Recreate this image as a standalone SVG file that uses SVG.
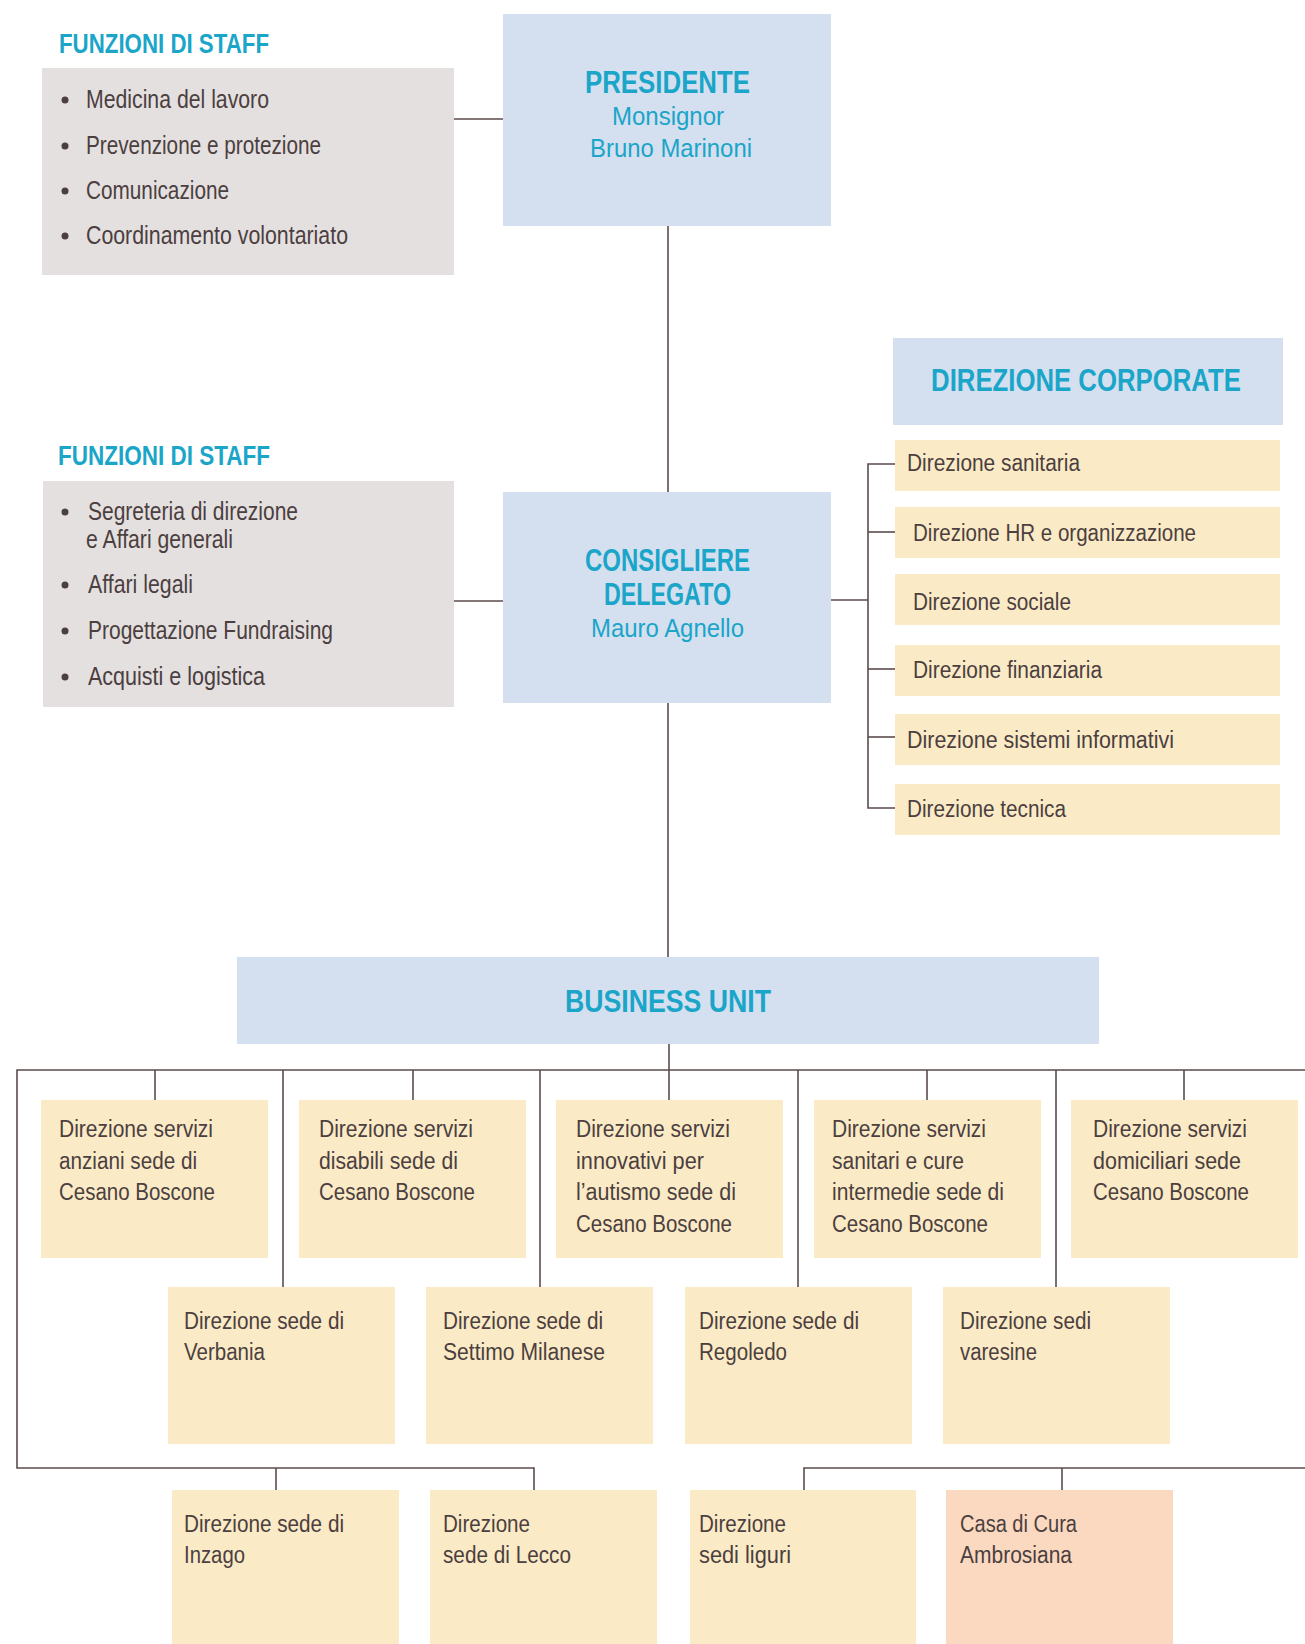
<svg xmlns="http://www.w3.org/2000/svg" width="1305" height="1644" viewBox="0 0 1305 1644">
<style>
text{font-family:"Liberation Sans",Arial,sans-serif}
.t{fill:#4b3f3f;font-size:23px}
.s{fill:#4b3f3f;font-size:25px}
.h{fill:#1aa5c9;font-weight:bold;font-size:32px}
.ht{fill:#1aa5c9;font-weight:bold;font-size:27px}
.n{fill:#1aa5c9;font-size:26px}
.blue{fill:#d4e0ef}
.staff{fill:#e5e0e0}
.cream{fill:#fbeac6}
.peach{fill:#fbd9c0}
.bul{fill:#4b3f3f}
.c line,.c path{stroke:#5b4b4b;stroke-width:1.6;fill:none}
</style>
<rect width="1305" height="1644" fill="#ffffff"/>

<g class="c" id="connectors">
<line x1="454" y1="119" x2="503" y2="119"/>
<line x1="454" y1="601" x2="503" y2="601"/>
<line x1="668" y1="226" x2="668" y2="492"/>
<line x1="668" y1="703" x2="668" y2="957"/>
<line x1="669" y1="1044" x2="669" y2="1100"/>
<line x1="831" y1="600" x2="868" y2="600"/>
<path d="M895 464 H868 V808 H895"/>
<line x1="868" y1="532" x2="895" y2="532"/>
<line x1="868" y1="669" x2="895" y2="669"/>
<line x1="868" y1="737" x2="895" y2="737"/>
<path d="M1305 1070 H17 V1468 H534 V1490"/>
<line x1="276" y1="1468" x2="276" y2="1490"/>
<path d="M804 1490 V1468 H1305"/>
<line x1="1062" y1="1468" x2="1062" y2="1490"/>
<line x1="155" y1="1070" x2="155" y2="1100"/>
<line x1="413" y1="1070" x2="413" y2="1100"/>
<line x1="927" y1="1070" x2="927" y2="1100"/>
<line x1="1184" y1="1070" x2="1184" y2="1100"/>
<line x1="283" y1="1070" x2="283" y2="1287"/>
<line x1="540" y1="1070" x2="540" y2="1287"/>
<line x1="798" y1="1070" x2="798" y2="1287"/>
<line x1="1056" y1="1070" x2="1056" y2="1287"/>
</g>

<g id="staff1">
<text class="ht" x="59" y="53" textLength="210" lengthAdjust="spacingAndGlyphs">FUNZIONI DI STAFF</text>
<rect class="staff" x="42" y="68" width="412" height="207"/>
<circle class="bul" cx="65" cy="100" r="3.5"/>
<text class="s" x="86" y="108" textLength="183" lengthAdjust="spacingAndGlyphs">Medicina del lavoro</text>
<circle class="bul" cx="65" cy="146" r="3.5"/>
<text class="s" x="86" y="154" textLength="235" lengthAdjust="spacingAndGlyphs">Prevenzione e protezione</text>
<circle class="bul" cx="65" cy="191" r="3.5"/>
<text class="s" x="86" y="199" textLength="143" lengthAdjust="spacingAndGlyphs">Comunicazione</text>
<circle class="bul" cx="65" cy="236" r="3.5"/>
<text class="s" x="86" y="244" textLength="262" lengthAdjust="spacingAndGlyphs">Coordinamento volontariato</text>
</g>

<g id="presidente">
<rect class="blue" x="503" y="14" width="328" height="212"/>
<text class="h" x="585" y="93" textLength="165" lengthAdjust="spacingAndGlyphs">PRESIDENTE</text>
<text class="n" x="612" y="125" textLength="112" lengthAdjust="spacingAndGlyphs">Monsignor</text>
<text class="n" x="590" y="157" textLength="162" lengthAdjust="spacingAndGlyphs">Bruno Marinoni</text>
</g>

<g id="staff2">
<text class="ht" x="58" y="465" textLength="212" lengthAdjust="spacingAndGlyphs">FUNZIONI DI STAFF</text>
<rect class="staff" x="43" y="481" width="411" height="226"/>
<circle class="bul" cx="65" cy="512" r="3.5"/>
<text class="s" x="88" y="520" textLength="210" lengthAdjust="spacingAndGlyphs">Segreteria di direzione</text>
<text class="s" x="86" y="548" textLength="147" lengthAdjust="spacingAndGlyphs">e Affari generali</text>
<circle class="bul" cx="65" cy="585" r="3.5"/>
<text class="s" x="88" y="593" textLength="105" lengthAdjust="spacingAndGlyphs">Affari legali</text>
<circle class="bul" cx="65" cy="631" r="3.5"/>
<text class="s" x="88" y="639" textLength="245" lengthAdjust="spacingAndGlyphs">Progettazione Fundraising</text>
<circle class="bul" cx="65" cy="677" r="3.5"/>
<text class="s" x="88" y="685" textLength="177" lengthAdjust="spacingAndGlyphs">Acquisti e logistica</text>
</g>

<g id="consigliere">
<rect class="blue" x="503" y="492" width="328" height="211"/>
<text class="h" x="585" y="571" textLength="165" lengthAdjust="spacingAndGlyphs">CONSIGLIERE</text>
<text class="h" x="604" y="605" textLength="127" lengthAdjust="spacingAndGlyphs">DELEGATO</text>
<text class="n" x="591" y="637" textLength="153" lengthAdjust="spacingAndGlyphs">Mauro Agnello</text>
</g>

<g id="corporate">
<rect class="blue" x="893" y="338" width="390" height="87"/>
<text class="h" x="0" y="0" text-anchor="middle" transform="translate(1086,391) scale(0.805,1)">DIREZIONE CORPORATE</text>
</g>
<g id="c1"><rect class="cream" x="895" y="440" width="385" height="51"/><text class="t" x="907" y="471" textLength="173" lengthAdjust="spacingAndGlyphs">Direzione sanitaria</text></g>
<g id="c2"><rect class="cream" x="895" y="507" width="385" height="51"/><text class="t" x="913" y="541" textLength="283" lengthAdjust="spacingAndGlyphs">Direzione HR e organizzazione</text></g>
<g id="c3"><rect class="cream" x="895" y="574" width="385" height="51"/><text class="t" x="913" y="610" textLength="158" lengthAdjust="spacingAndGlyphs">Direzione sociale</text></g>
<g id="c4"><rect class="cream" x="895" y="645" width="385" height="51"/><text class="t" x="913" y="678" textLength="189" lengthAdjust="spacingAndGlyphs">Direzione finanziaria</text></g>
<g id="c5"><rect class="cream" x="895" y="714" width="385" height="51"/><text class="t" x="907" y="748" textLength="267" lengthAdjust="spacingAndGlyphs">Direzione sistemi informativi</text></g>
<g id="c6"><rect class="cream" x="895" y="784" width="385" height="51"/><text class="t" x="907" y="817" textLength="159" lengthAdjust="spacingAndGlyphs">Direzione tecnica</text></g>

<g id="business-unit">
<rect class="blue" x="237" y="957" width="862" height="87"/>
<text class="h" x="565" y="1012" textLength="206" lengthAdjust="spacingAndGlyphs">BUSINESS UNIT</text>
</g>

<g id="bu1"><rect class="cream" x="41" y="1100" width="227" height="158"/>
<text class="t" x="59" y="1137" textLength="154" lengthAdjust="spacingAndGlyphs">Direzione servizi</text>
<text class="t" x="59" y="1169" textLength="138" lengthAdjust="spacingAndGlyphs">anziani sede di</text>
<text class="t" x="59" y="1200" textLength="156" lengthAdjust="spacingAndGlyphs">Cesano Boscone</text></g>
<g id="bu2"><rect class="cream" x="299" y="1100" width="227" height="158"/>
<text class="t" x="319" y="1137" textLength="154" lengthAdjust="spacingAndGlyphs">Direzione servizi</text>
<text class="t" x="319" y="1169" textLength="139" lengthAdjust="spacingAndGlyphs">disabili sede di</text>
<text class="t" x="319" y="1200" textLength="156" lengthAdjust="spacingAndGlyphs">Cesano Boscone</text></g>
<g id="bu3"><rect class="cream" x="556" y="1100" width="227" height="158"/>
<text class="t" x="576" y="1137" textLength="154" lengthAdjust="spacingAndGlyphs">Direzione servizi</text>
<text class="t" x="576" y="1169" textLength="128" lengthAdjust="spacingAndGlyphs">innovativi per</text>
<text class="t" x="576" y="1200" textLength="160" lengthAdjust="spacingAndGlyphs">l’autismo sede di</text>
<text class="t" x="576" y="1232" textLength="156" lengthAdjust="spacingAndGlyphs">Cesano Boscone</text></g>
<g id="bu4"><rect class="cream" x="814" y="1100" width="227" height="158"/>
<text class="t" x="832" y="1137" textLength="154" lengthAdjust="spacingAndGlyphs">Direzione servizi</text>
<text class="t" x="832" y="1169" textLength="132" lengthAdjust="spacingAndGlyphs">sanitari e cure</text>
<text class="t" x="832" y="1200" textLength="172" lengthAdjust="spacingAndGlyphs">intermedie sede di</text>
<text class="t" x="832" y="1232" textLength="156" lengthAdjust="spacingAndGlyphs">Cesano Boscone</text></g>
<g id="bu5"><rect class="cream" x="1071" y="1100" width="227" height="158"/>
<text class="t" x="1093" y="1137" textLength="154" lengthAdjust="spacingAndGlyphs">Direzione servizi</text>
<text class="t" x="1093" y="1169" textLength="148" lengthAdjust="spacingAndGlyphs">domiciliari sede</text>
<text class="t" x="1093" y="1200" textLength="156" lengthAdjust="spacingAndGlyphs">Cesano Boscone</text></g>

<g id="bu6"><rect class="cream" x="168" y="1287" width="227" height="157"/>
<text class="t" x="184" y="1329" textLength="160" lengthAdjust="spacingAndGlyphs">Direzione sede di</text>
<text class="t" x="184" y="1360" textLength="81" lengthAdjust="spacingAndGlyphs">Verbania</text></g>
<g id="bu7"><rect class="cream" x="426" y="1287" width="227" height="157"/>
<text class="t" x="443" y="1329" textLength="160" lengthAdjust="spacingAndGlyphs">Direzione sede di</text>
<text class="t" x="443" y="1360" textLength="162" lengthAdjust="spacingAndGlyphs">Settimo Milanese</text></g>
<g id="bu8"><rect class="cream" x="685" y="1287" width="227" height="157"/>
<text class="t" x="699" y="1329" textLength="160" lengthAdjust="spacingAndGlyphs">Direzione sede di</text>
<text class="t" x="699" y="1360" textLength="88" lengthAdjust="spacingAndGlyphs">Regoledo</text></g>
<g id="bu9"><rect class="cream" x="943" y="1287" width="227" height="157"/>
<text class="t" x="960" y="1329" textLength="131" lengthAdjust="spacingAndGlyphs">Direzione sedi</text>
<text class="t" x="960" y="1360" textLength="77" lengthAdjust="spacingAndGlyphs">varesine</text></g>

<g id="bu10"><rect class="cream" x="172" y="1490" width="227" height="160"/>
<text class="t" x="184" y="1532" textLength="160" lengthAdjust="spacingAndGlyphs">Direzione sede di</text>
<text class="t" x="184" y="1563" textLength="61" lengthAdjust="spacingAndGlyphs">Inzago</text></g>
<g id="bu11"><rect class="cream" x="430" y="1490" width="227" height="160"/>
<text class="t" x="443" y="1532" textLength="87" lengthAdjust="spacingAndGlyphs">Direzione</text>
<text class="t" x="443" y="1563" textLength="128" lengthAdjust="spacingAndGlyphs">sede di Lecco</text></g>
<g id="bu12"><rect class="cream" x="690" y="1490" width="226" height="160"/>
<text class="t" x="699" y="1532" textLength="87" lengthAdjust="spacingAndGlyphs">Direzione</text>
<text class="t" x="699" y="1563" textLength="92" lengthAdjust="spacingAndGlyphs">sedi liguri</text></g>
<g id="bu13"><rect class="peach" x="946" y="1490" width="227" height="160"/>
<text class="t" x="960" y="1532" textLength="117" lengthAdjust="spacingAndGlyphs">Casa di Cura</text>
<text class="t" x="960" y="1563" textLength="112" lengthAdjust="spacingAndGlyphs">Ambrosiana</text></g>
</svg>
